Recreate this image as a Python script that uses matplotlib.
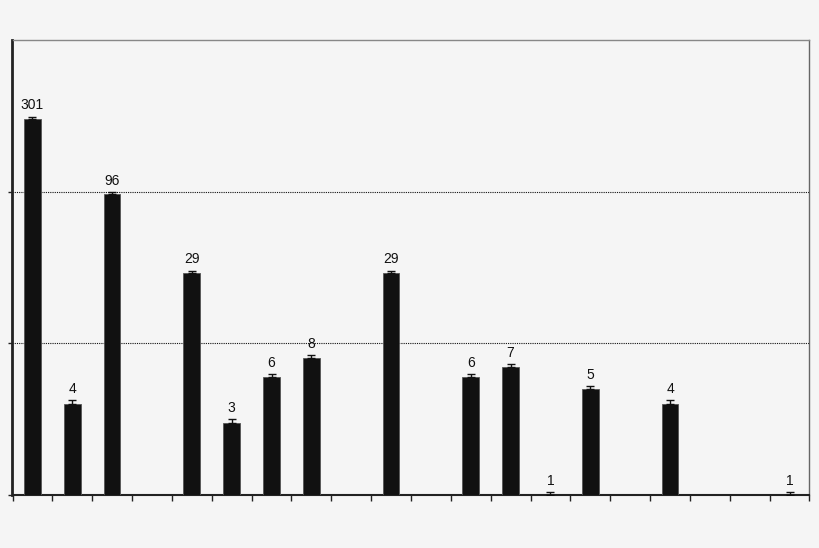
import numpy as np
import matplotlib
matplotlib.use("Agg")
import matplotlib.pyplot as plt

# ── data (log-scale counts) ────────────────────────────────────────────────
slots  = list(range(20))
values = [301, 4, 96, None, 29, 3, 6, 8, None, 29,
          None, 6, 7, 1, 5, None, 4, None, None, 1]
errors = [12, 0.2, 3.5, None, 1.2, 0.15, 0.3, 0.35, None, 1.2,
          None, 0.3, 0.3, 0.05, 0.25, None, 0.2, None, None, 0.05]

BG = "#f5f5f5"
plt.rcParams["font.family"] = ["Liberation Sans", "DejaVu Sans"]

fig = plt.figure(figsize=(8.2, 5.48), dpi=100, facecolor=BG)
ax = fig.add_axes([12.5 / 820, 53 / 548, 797 / 820, 455 / 548])
ax.set_facecolor(BG)

xs = [s for s, v in zip(slots, values) if v is not None]
vs = [v for v in values if v is not None]
es = [e for e in errors if e is not None]

ax.bar(xs, vs, width=0.42, color="#111111", edgecolor="#555555",
       linewidth=0.6, zorder=3)
ax.errorbar(xs, vs, yerr=[[0] * len(es), es], fmt="none", ecolor="#111111",
            elinewidth=1.0, capsize=3.2, capthick=1.0, zorder=4)

for x, v, e in zip(xs, vs, es):
    ax.annotate(str(v), (x, v + e), xytext=(0, 3), textcoords="offset points",
                ha="center", va="bottom", fontsize=10, color="#111111")

ax.set_yscale("log")
ax.set_ylim(1, 1000)
ax.set_xlim(-0.5, 19.5)

ax.set_yticks([1, 10, 100])
ax.yaxis.set_minor_locator(plt.NullLocator())
ax.set_yticklabels([])
ax.set_xticks(np.arange(-0.5, 20, 1.0))
ax.set_xticklabels([])
ax.tick_params(axis="x", direction="out", length=4, width=1, color="#222222")
ax.tick_params(axis="y", direction="out", length=3, width=1, color="#222222")

for yv in (10, 100):
    ax.axhline(yv, color="#111111", lw=0.8, ls=(0, (1, 1)), zorder=1)

ax.spines["left"].set_color("#222222")
ax.spines["left"].set_linewidth(2.0)
ax.spines["bottom"].set_color("#222222")
ax.spines["bottom"].set_linewidth(1.5)
ax.spines["top"].set_color("#888888")
ax.spines["top"].set_linewidth(1.0)
ax.spines["right"].set_color("#666666")
ax.spines["right"].set_linewidth(1.0)

fig.savefig("out.png", dpi=100, facecolor=BG)
